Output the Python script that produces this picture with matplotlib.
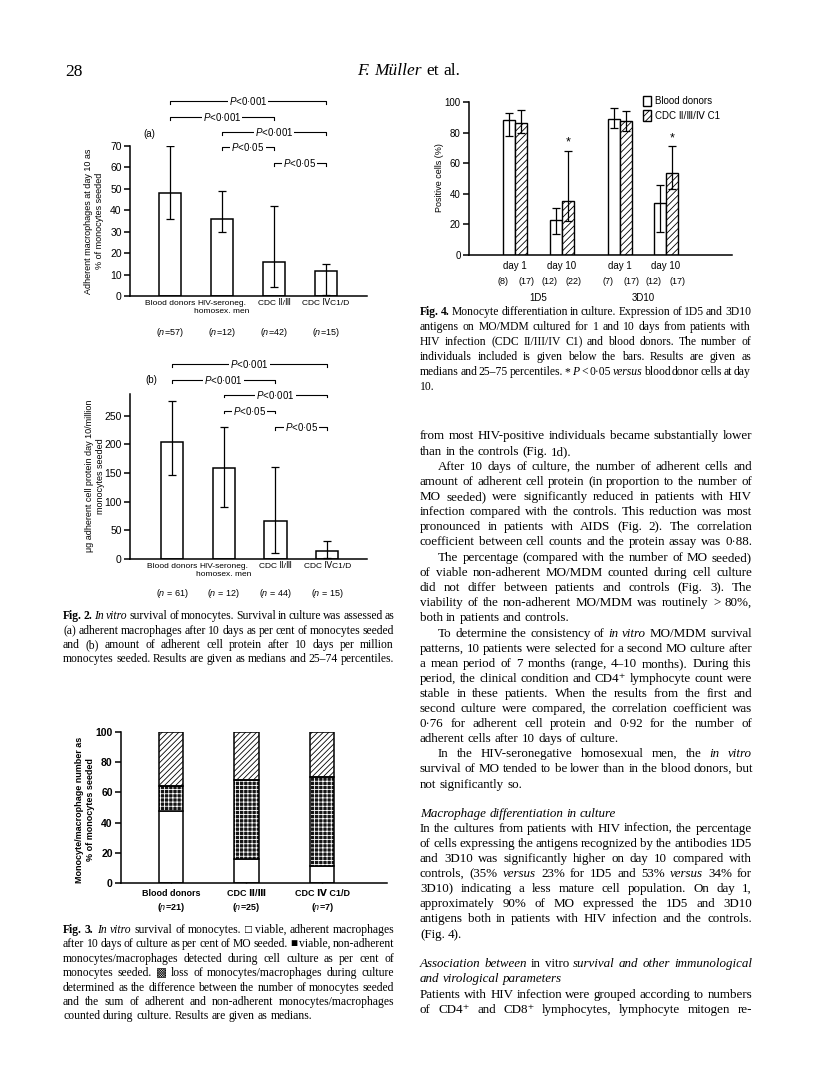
import matplotlib
matplotlib.use('Agg')
import matplotlib.pyplot as plt
import matplotlib.transforms as mtrans
from matplotlib.patches import Patch

W, H = 816, 1084
plt.rcParams['font.family'] = ['Liberation Sans', 'DejaVu Sans']
plt.rcParams['mathtext.fontset'] = 'custom'
plt.rcParams['mathtext.it'] = 'Liberation Sans:italic'
plt.rcParams['mathtext.rm'] = 'Liberation Sans'
plt.rcParams['hatch.linewidth'] = 0.6

# ---- Fig. 2 data ----
groups_a = ['Blood donors', 'HIV-seroneg.\nhomosex. men', 'CDC Ⅱ/Ⅲ', 'CDC ⅣC1/D']
n_a = ['57', '12', '42', '15']
med_a = [48, 36, 16, 11.5]
lo_a = [36, 30, 4, 0.5]
hi_a = [70, 49, 42, 15]

n_b = ['61', '12', '44', '15']
med_b = [205, 158, 67, 14]
lo_b = [147, 90, 10, 2]
hi_b = [276, 231, 161, 31]

# pairs compared (group index, group index, p value)
sig_pairs = [(0, 3, '0·001'), (0, 2, '0·001'), (1, 3, '0·001'), (1, 2, '0·05'), (2, 3, '0·05')]

# ---- Fig. 3 data ----
groups_3 = ['Blood donors', 'CDC Ⅱ/Ⅲ', 'CDC Ⅳ C1/D']
n_3 = ['21', '25', '7']
adherent_3 = [48, 16, 11]
nonadherent_3 = [16, 52, 59]
loss_3 = [36, 32, 30]

# ---- Fig. 4 data ----
days = ['day 1', 'day 10', 'day 1', 'day 10']
antigens = ['1D5', '3D10']
donor_med = [88.5, 23, 89, 34]
donor_lo = [78, 13.5, 83, 15]
donor_hi = [93, 31, 96, 46]
cdc_med = [86, 35, 87.5, 53.5]
cdc_lo = [80, 22, 81, 43]
cdc_hi = [95, 68, 94, 71]
n_donor = ['8', '12', '7', '12']
n_cdc = ['17', '22', '17', '17']
signif = [False, True, False, True]

fig = plt.figure(figsize=(W / 100, H / 100), dpi=100)
renderer = fig.canvas.get_renderer()


def px_axes(x0, y0, x1, y1):
    return fig.add_axes([x0 / W, 1 - y1 / H, (x1 - x0) / W, (y1 - y0) / H])


def style_axes(ax):
    for s in ['top', 'right']:
        ax.spines[s].set_visible(False)
    for s in ['left', 'bottom']:
        ax.spines[s].set_linewidth(1.1)
    ax.tick_params(axis='y', direction='out', length=4, width=1.1, labelsize=7.5, pad=2)


def ftext(x, y, s, **kw):
    return fig.text(x / W, 1 - y / H, s, **kw)


def bracket(ax, i, j, y, p, tick):
    ax.plot([i, i, j, j], [y - tick, y, y, y - tick], color='k', lw=0.8, clip_on=False)
    ax.text((i + j) / 2, y, r'$\it{P}$<' + p, ha='center', va='center', fontsize=7,
            bbox=dict(fc='white', ec='none', pad=0.6), clip_on=False)


def bar_panel(ax, med, lo, hi, nlist, sep, ylim, ticks, n_y):
    xs = list(range(len(med)))
    ax.bar(xs, med, width=0.43, color='white', edgecolor='k', lw=1.1, zorder=2)
    ax.errorbar(xs, med, yerr=[[m - l for m, l in zip(med, lo)], [h - m for m, h in zip(med, hi)]],
                fmt='none', ecolor='k', elinewidth=0.9, capsize=3, capthick=0.9, zorder=3)
    ax.set_ylim(*ylim)
    ax.set_yticks(ticks)
    ax.set_xticks(xs)
    ax.set_xticklabels(groups_a, fontsize=6.0, linespacing=1.1)
    ax.tick_params(axis='x', length=0, pad=3)
    tr = mtrans.blended_transform_factory(ax.transData, ax.transAxes)
    for x, n in zip(xs, nlist):
        ax.text(x, n_y, '(' + r'$\it{n}$' + sep + n + ')', transform=tr, ha='center', va='center', fontsize=6.5)


# ---- Fig. 2(a) ----
ax = px_axes(130, 146, 367, 296)
style_axes(ax)
ax.set_xlim(-0.77, 3.79)
bar_panel(ax, med_a, lo_a, hi_a, n_a, '=', (0, 70), range(0, 71, 10), -0.24)
for (i, j, p), y in zip(sig_pairs, [91, 83.5, 76.5, 69.5, 62]):
    bracket(ax, i, j, y, p, 1.4)
ax.text(-0.4, 75.5, '(a)', fontsize=7, ha='center', va='center')
ftext(94, 221, 'Adherent macrophages at day 10 as\n% of monocytes seeded', rotation=90,
      ha='center', va='center', fontsize=6.5, linespacing=1.2)

# ---- Fig. 2(b) ----
ax = px_axes(130, 394, 367, 559)
style_axes(ax)
ax.set_xlim(-0.81, 3.77)
bar_panel(ax, med_b, lo_b, hi_b, n_b, ' = ', (0, 288), range(0, 251, 50), -0.21)
for (i, j, p), y in zip(sig_pairs, [341, 313, 287, 259, 231]):
    bracket(ax, i, j, y, p, 5)
ax.text(-0.4, 313, '(b)', fontsize=7, ha='center', va='center')
ftext(95, 476, 'μg adherent cell protein day 10/million\nmonocytes seeded', rotation=90,
      ha='center', va='center', fontsize=6.5, linespacing=1.2)

# ---- Fig. 3 ----
ax = px_axes(121, 732, 387, 883)
style_axes(ax)
ax.set_xlim(-0.66, 2.86)
x3 = list(range(len(groups_3)))
mid_bottom = adherent_3
top_bottom = [a + b for a, b in zip(adherent_3, nonadherent_3)]
ax.bar(x3, adherent_3, width=0.32, color='white', edgecolor='k', lw=1.1, zorder=2)
ax.bar(x3, nonadherent_3, bottom=mid_bottom, width=0.32, color='#151515', edgecolor='white',
       hatch='++++', lw=0, zorder=2)
ax.bar(x3, nonadherent_3, bottom=mid_bottom, width=0.32, fill=False, edgecolor='k', lw=1.1, zorder=3)
ax.bar(x3, loss_3, bottom=top_bottom, width=0.32, color='white', edgecolor='k', hatch='//////',
       lw=1.1, zorder=2)
ax.set_ylim(0, 100)
ax.set_yticks(range(0, 101, 20))
ax.set_yticklabels([str(v) for v in range(0, 101, 20)], fontweight='bold')
ax.set_xticks(x3)
ax.set_xticklabels(groups_3, fontsize=6.5, fontweight='bold')
ax.tick_params(axis='x', direction='in', length=3, width=1, pad=4)
tr = mtrans.blended_transform_factory(ax.transData, ax.transAxes)
for x, n in zip(x3, n_3):
    ax.text(x, -0.165, '(' + r'$\it{n}$' + '=' + n + ')', transform=tr, ha='center', va='center',
            fontsize=6.5, fontweight='bold')
ftext(85, 810, 'Monocyte/macrophage number as\n% of monocytes seeded', rotation=90,
      ha='center', va='center', fontsize=6.5, fontweight='bold', linespacing=1.2)

# ---- Fig. 4 ----
ax = px_axes(469, 102, 732, 255)
style_axes(ax)
ax.tick_params(axis='y', labelsize=7)
pos4 = [46, 93, 151, 197]
bw = 12
xw = [p - bw / 2 for p in pos4]
xh = [p + bw / 2 for p in pos4]
ax.bar(xw, donor_med, width=bw, color='white', edgecolor='k', lw=1.0, zorder=2)
ax.bar(xh, cdc_med, width=bw, color='white', edgecolor='k', hatch='/////', lw=1.0, zorder=2)
ax.errorbar(xw, donor_med, yerr=[[m - l for m, l in zip(donor_med, donor_lo)],
                                 [h - m for m, h in zip(donor_med, donor_hi)]],
            fmt='none', ecolor='k', elinewidth=0.9, capsize=3, capthick=0.9, zorder=3)
ax.errorbar(xh, cdc_med, yerr=[[m - l for m, l in zip(cdc_med, cdc_lo)],
                               [h - m for m, h in zip(cdc_med, cdc_hi)]],
            fmt='none', ecolor='k', elinewidth=0.9, capsize=3, capthick=0.9, zorder=3)
for x, h, s in zip(xh, cdc_hi, signif):
    if s:
        ax.text(x, h + 1.5, '*', ha='center', va='bottom', fontsize=9)
ax.set_xlim(0, 263)
ax.set_ylim(0, 100)
ax.set_yticks(range(0, 101, 20))
ax.set_xticks(pos4)
ax.set_xticklabels(days, fontsize=7)
ax.tick_params(axis='x', length=0, pad=4)
tr = mtrans.blended_transform_factory(ax.transData, ax.transAxes)
for p, n1, n2 in zip(pos4, n_donor, n_cdc):
    ax.text(p - 12, -0.17, '(' + n1 + ')', transform=tr, ha='center', va='center', fontsize=6.5)
    ax.text(p + 12, -0.17, '(' + n2 + ')', transform=tr, ha='center', va='center', fontsize=6.5)
for k, a in enumerate(antigens):
    ax.text((pos4[2 * k] + pos4[2 * k + 1]) / 2, -0.28, a, transform=tr, ha='center', va='center', fontsize=7)
ax.legend(handles=[Patch(fc='white', ec='k', lw=1.0), Patch(fc='white', ec='k', lw=1.0, hatch='/////')],
          labels=['Blood donors', 'CDC Ⅱ/Ⅲ/Ⅳ C1'], loc='upper left', bbox_to_anchor=(0.66, 1.04),
          frameon=False, fontsize=7, handlelength=0.9, handleheight=1.3, handletextpad=0.4,
          labelspacing=0.4, borderpad=0, borderaxespad=0)
ftext(439, 178, 'Positive cells (%)', rotation=90, ha='center', va='center', fontsize=6.5)

# ---- page text ----
SERIF = ['Liberation Serif', 'DejaVu Sans']


def put_line(x0, x1, y, line, size, justify=True):
    items = []
    for w in line.split(' '):
        style, weight = 'normal', 'normal'
        if w.startswith('~'):
            w, style = w[1:], 'italic'
        if w.startswith('^'):
            w, weight = w[1:], 'bold'
        t = ftext(0, 0, w, fontsize=size, family=SERIF, style=style, weight=weight, va='baseline')
        items.append((t, t.get_window_extent(renderer).width))
    total = sum(wd for _, wd in items)
    if justify and len(items) > 1:
        gap = (x1 - x0 - total) / (len(items) - 1)
    else:
        gap = size * 100 / 72 * 0.25
    x = x0
    yb = round(y + 4)
    for t, wd in items:
        t.set_position((x / W, 1 - yb / H))
        x += wd + gap


def block(x0, x1, ys, lines, size, indent=18):
    for y, ln in zip(ys, lines):
        just = True
        ind = 0
        if ln.startswith('>'):
            ln, ind = ln[1:], indent
        if ln.endswith('|'):
            ln, just = ln[:-1], False
        put_line(x0 + ind, x1, y, ln, size, just)


ftext(65, 76, '28', family=SERIF, fontsize=12.5, va='baseline')
put_line(357, 453, 71, '~F. ~Müller et al.', 12.5, False)

cap2 = ['^Fig. ^2. ~In ~vitro survival of monocytes. Survival in culture was assessed as',
        '(a) adherent macrophages after 10 days as per cent of monocytes seeded',
        'and (b) amount of adherent cell protein after 10 days per million',
        'monocytes seeded. Results are given as medians and 25–74 percentiles.']
block(63, 394, [615, 629.5, 644, 658.5], cap2, 8.4)

cap3 = ['^Fig. ^3. ~In ~vitro survival of monocytes. □ viable, adherent macrophages',
        'after 10 days of culture as per cent of MO seeded. ■ viable, non-adherent',
        'monocytes/macrophages detected during cell culture as per cent of',
        'monocytes seeded. ▩ loss of monocytes/macrophages during culture',
        'determined as the difference between the number of monocytes seeded',
        'and the sum of adherent and non-adherent monocytes/macrophages',
        'counted during culture. Results are given as medians.|']
block(63, 394, [929 + 14.4 * k for k in range(7)], cap3, 8.4)

cap4 = ['^Fig. ^4. Monocyte differentiation in culture. Expression of 1D5 and 3D10',
        'antigens on MO/MDM cultured for 1 and 10 days from patients with',
        'HIV infection (CDC II/III/IV C1) and blood donors. The number of',
        'individuals included is given below the bars. Results are given as',
        'medians and 25–75 percentiles. * ~P < 0·05 ~versus blood donor cells at day',
        '10.|']
block(420, 751, [311 + 15 * k for k in range(6)], cap4, 8.4)

body = [(435, 'from most HIV-positive individuals became substantially lower'),
        (451, 'than in the controls (Fig. 1d).|'),
        (466, '>After 10 days of culture, the number of adherent cells and'),
        (481, 'amount of adherent cell protein (in proportion to the number of'),
        (496, 'MO seeded) were significantly reduced in patients with HIV'),
        (511, 'infection compared with the controls. This reduction was most'),
        (526, 'pronounced in patients with AIDS (Fig. 2). The correlation'),
        (541, 'coefficient between cell counts and the protein assay was 0·88.'),
        (557, '>The percentage (compared with the number of MO seeded)'),
        (572, 'of viable non-adherent MO/MDM counted during cell culture'),
        (587, 'did not differ between patients and controls (Fig. 3). The'),
        (602, 'viability of the non-adherent MO/MDM was routinely > 80%,'),
        (617, 'both in patients and controls.|'),
        (633, '>To determine the consistency of ~in ~vitro MO/MDM survival'),
        (648, 'patterns, 10 patients were selected for a second MO culture after'),
        (663, 'a mean period of 7 months (range, 4–10 months). During this'),
        (678, 'period, the clinical condition and CD4⁺ lymphocyte count were'),
        (693, 'stable in these patients. When the results from the first and'),
        (708, 'second culture were compared, the correlation coefficient was'),
        (723, '0·76 for adherent cell protein and 0·92 for the number of'),
        (738, 'adherent cells after 10 days of culture.|'),
        (753, '>In the HIV-seronegative homosexual men, the ~in ~vitro'),
        (768, 'survival of MO tended to be lower than in the blood donors, but'),
        (784, 'not significantly so.|'),
        (813, '~Macrophage ~differentiation ~in ~culture|'),
        (828, 'In the cultures from patients with HIV infection, the percentage'),
        (843, 'of cells expressing the antigens recognized by the antibodies 1D5'),
        (858, 'and 3D10 was significantly higher on day 10 compared with'),
        (873, 'controls, (35% ~versus 23% for 1D5 and 53% ~versus 34% for'),
        (888, '3D10) indicating a less mature cell population. On day 1,'),
        (903, 'approximately 90% of MO expressed the 1D5 and 3D10'),
        (918, 'antigens both in patients with HIV infection and the controls.'),
        (934, '(Fig. 4).|'),
        (963, '~Association ~between in vitro ~survival ~and ~other ~immunological'),
        (978, '~and ~virological ~parameters|'),
        (994, 'Patients with HIV infection were grouped according to numbers'),
        (1009, 'of CD4⁺ and CD8⁺ lymphocytes, lymphocyte mitogen re-')]
block(420, 752, [b[0] for b in body], [b[1] for b in body], 9.4)

fig.savefig('out.png', dpi=100)
